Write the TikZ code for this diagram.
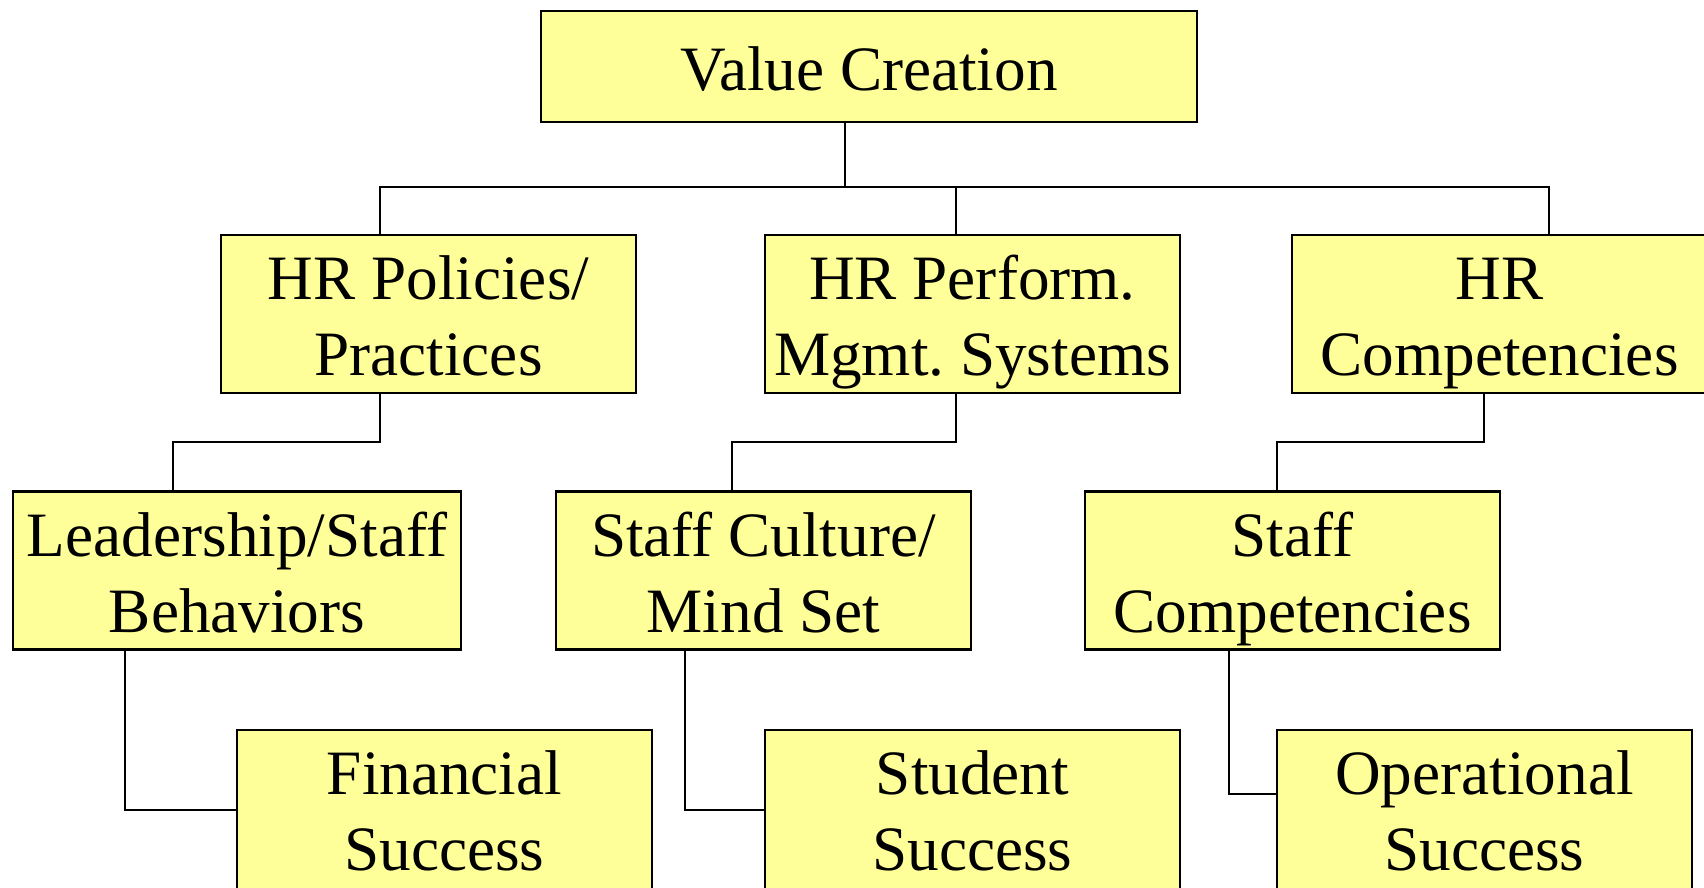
\documentclass[tikz,border=0pt]{standalone}
\usepackage{fontspec}
\setmainfont{Liberation Serif}
\frenchspacing
\definecolor{boxfill}{RGB}{255,255,153}
\tikzset{
  box/.style={draw=black, line width=2.2pt, fill=boxfill, inner sep=0pt,
    align=center, minimum width=415pt, minimum height=158pt},
  lbl/.style={inner sep=0pt, align=center, yshift=-8.7pt,
    font=\fontsize{63.2pt}{76pt}\selectfont},
  conn/.style={draw=black, line width=1.5pt}
}
\begin{document}
\begin{tikzpicture}[x=1pt,y=-1pt]
\useasboundingbox (0,0) rectangle (1704,888);
% top
\node[box, minimum width=656pt, minimum height=111pt] (vc) at (869,66.5) {};
\node[lbl] (vct) at (vc.center) {\strut Value Creation};
% second row
\node[box] (hrp) at (428.5,314) {};
\node[lbl] (hrpt) at (hrp.center) {\strut HR Policies/\\\strut Practices};
\node[box] (hrperf) at (972.5,314) {};
\node[lbl] (hrperft) at (hrperf.center) {\strut HR Perform.\\\strut Mgmt.\ Systems};
\node[box] (hrc) at (1499.5,314) {};
\node[lbl] (hrct) at (hrc.center) {\strut HR\\\strut Competencies};
% third row
\node[box, minimum width=448pt] (lsb) at (237,570.5) {};
\node[lbl] (lsbt) at (lsb.center) {\strut Leadership/Staff\\\strut Behaviors};
\node[box] (scm) at (763.5,570.5) {};
\node[lbl] (scmt) at (scm.center) {\strut Staff Culture/\\\strut Mind Set};
\node[box] (sc) at (1292.5,570.5) {};
\node[lbl] (sct) at (sc.center) {\strut Staff\\\strut Competencies};
% bottom row
\node[box, minimum height=162pt] (fs) at (444.5,811) {};
\node[lbl] (fst) at ([yshift=2pt]fs.center) {\strut Financial\\\strut Success};
\node[box, minimum height=162pt] (ss) at (972.5,811) {};
\node[lbl] (sst) at ([yshift=2pt]ss.center) {\strut Student\\\strut Success};
\node[box, minimum height=162pt] (os) at (1484.5,811) {};
\node[lbl] (ost) at ([yshift=2pt]os.center) {\strut Operational\\\strut Success};
% connectors
\draw[conn] (vc.south -| 845,0) -- (845,187);
\draw[conn] (hrp.north -| 380,0) -- (380,187) -- (1549,187) -- (hrc.north -| 1549,0);
\draw[conn] (hrperf.north -| 956,0) -- (956,187);
\draw[conn] (hrp.south -| 380,0) -- (380,442) -| (lsb.north -| 173,0);
\draw[conn] (hrperf.south -| 956,0) -- (956,442) -| (scm.north -| 732,0);
\draw[conn] (hrc.south -| 1484,0) -- (1484,442) -| (sc.north -| 1277,0);
\draw[conn] (lsb.south -| 125,0) |- (fs.west |- 0,810);
\draw[conn] (scm.south -| 685,0) |- (ss.west |- 0,810);
\draw[conn] (sc.south -| 1229,0) |- (os.west |- 0,794);
\end{tikzpicture}
\end{document}
